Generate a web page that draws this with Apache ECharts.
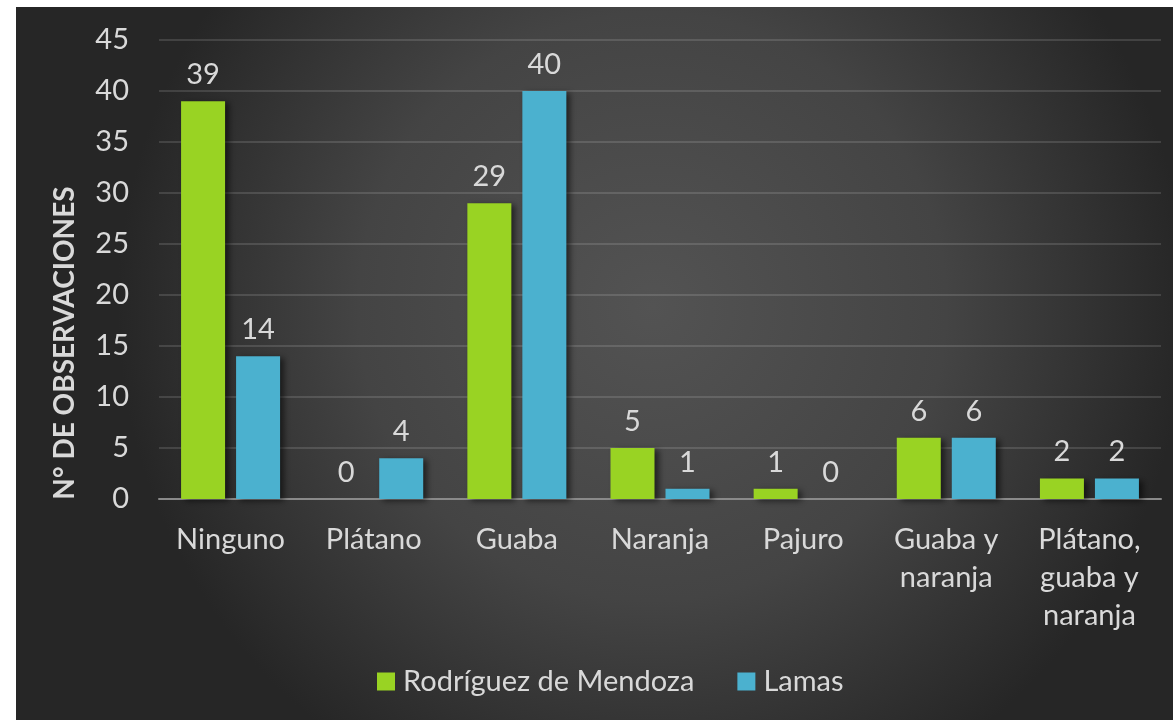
<!DOCTYPE html>
<html>
<head>
<meta charset="utf-8">
<script src="https://cdn.jsdelivr.net/npm/echarts@6/dist/echarts.min.js"></script>
<style>
html,body{margin:0;padding:0;background:#fff;}
#c{width:1173px;height:720px;}
</style>
</head>
<body>
<div id="c"></div>
<script>
const categories = ["Ninguno", "Plátano", "Guaba", "Naranja", "Pajuro", "Guaba y\nnaranja", "Plátano,\nguaba y\nnaranja"];
const seriesNames = ["Rodríguez de Mendoza", "Lamas"];
const rodriguez = [39, 0, 29, 5, 1, 6, 2];
const lamas = [14, 4, 40, 1, 0, 6, 2];
const yTicks = {min: 0, max: 45, interval: 5};
const yTitle = "N° DE OBSERVACIONES";

const FONT = "Lato";
const FS = 29;
const TXT = "#d9d9d9";
const chart = echarts.init(document.getElementById('c'));

const labelCfg = {show: true, position: 'top', distance: 12, color: TXT, fontFamily: FONT, fontSize: FS};
const shadow = {shadowColor: 'rgba(0,0,0,0.55)', shadowBlur: 6, shadowOffsetX: 4, shadowOffsetY: 2};

chart.setOption({
  backgroundColor: '#ffffff',
  animation: false,
  graphic: [
    {type: 'rect', z: -10, silent: true, shape: {x: 16, y: 7, width: 1157, height: 713},
     style: {fill: new echarts.graphic.RadialGradient(0.55, 0.42, 0.75, [
       {offset: 0, color: '#535353'}, {offset: 0.55, color: '#444444'}, {offset: 1, color: '#262626'}])}},
    {type: 'text', x: 65, y: 343, rotation: Math.PI / 2, z: 10,
     style: {text: yTitle, fill: TXT, font: 'bold 28px ' + FONT, align: 'center', verticalAlign: 'middle'}}
  ],
  legend: {
    data: seriesNames, left: 372, top: 662, itemWidth: 18, itemHeight: 18, itemGap: 43,
    icon: 'rect',
    textStyle: {color: TXT, fontFamily: FONT, fontSize: FS, padding: [0, 0, 0, 3]}
  },
  grid: {left: 159, right: 12, top: 40, bottom: 221, containLabel: false},
  xAxis: {
    type: 'category', data: categories,
    axisLine: {lineStyle: {color: '#8a8a8a', width: 2}},
    axisTick: {show: false},
    axisLabel: {color: TXT, fontFamily: FONT, fontSize: FS, lineHeight: 38, margin: 22, interval: 0}
  },
  yAxis: {
    type: 'value', min: yTicks.min, max: yTicks.max, interval: yTicks.interval,
    axisLine: {show: false}, axisTick: {show: false},
    axisLabel: {color: TXT, fontFamily: FONT, fontSize: FS, margin: 30},
    splitLine: {lineStyle: {color: 'rgba(255,255,255,0.13)', width: 2}}
  },
  series: [
    {name: seriesNames[0], type: 'bar', data: rodriguez, barWidth: 44, barGap: '25%',
     itemStyle: Object.assign({color: '#99d323'}, shadow), label: labelCfg},
    {name: seriesNames[1], type: 'bar', data: lamas, barWidth: 44,
     itemStyle: Object.assign({color: '#4bb1cf'}, shadow), label: labelCfg}
  ]
});
</script>
</body>
</html>
